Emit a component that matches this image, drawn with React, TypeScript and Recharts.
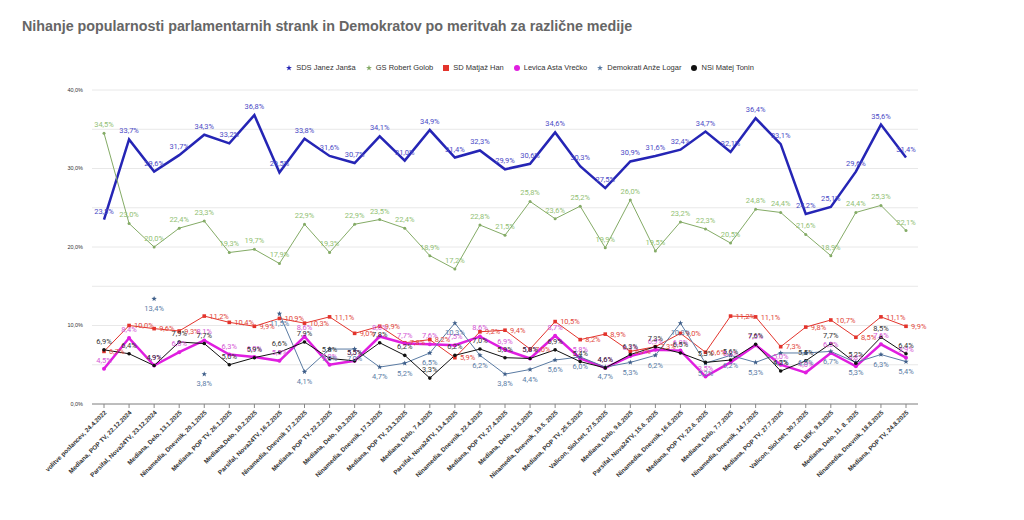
import React from 'react';
import {
  LineChart,
  Line,
  XAxis,
  YAxis,
  CartesianGrid,
  Legend,
  LabelList,
} from 'recharts';

const categories = [
  'volitve poslancev, 24.4.2022',
  'Mediana, POP TV, 22.12.2024',
  'Parsifal, Nova24TV, 23.12.2024',
  'Mediana, Delo, 13.1.2025',
  'Ninamedia, Dnevnik, 20.1.2025',
  'Mediana, POP TV, 26.1.2025',
  'Mediana,Delo, 10.2.2025',
  'Parsifal, Nova24TV, 16.2.2025',
  'Ninamedia, Dnevnik 17.2.2025',
  'Mediana, POP TV, 22.2.2025',
  'Mediana, Delo, 10.3.2025',
  'Ninamedia, Dnevnik, 17.3.2025',
  'Mediana, POP TV, 23.3.2025',
  'Mediana, Delo, 7.4.2025',
  'Parsifal, Nova24TV, 13.4.2025',
  'Ninamedia, Dnevnik, 22.4.2025',
  'Mediana, POP TV, 27.4.2025',
  'Mediana, Delo, 12.5.2025',
  'Ninamedia, Dnevnik, 19.5. 2025',
  'Mediana, POP TV, 25.5.2025',
  'Valicon, Siol.net, 27.5.2025',
  'Mediana, Delo, 9.6.2025',
  'Parsifal, Nova24TV, 15.6. 2025',
  'Ninamedia, Dnevnik, 16.6.2025',
  'Mediana, POP TV, 22.6. 2025',
  'Mediana, Delo, 7.7.2025',
  'Ninamedia, Dnevnik, 14.7.2025',
  'Mediana, POP TV, 27.7.2025',
  'Valicon, Siol.net, 30.7.2025',
  'RC LIEK, 9.8.2025',
  'Mediana, Delo, 11. 8. 2025',
  'Ninamedia, Dnevnik, 18.8.2025',
  'Mediana, POP TV, 24.8.2025',
];

const sds = [23.5, 33.7, 29.6, 31.7, 34.3, 33.2, 36.8, 29.5, 33.8, 31.6, 30.7, 34.1, 31.0, 34.9, 31.4, 32.3, 29.9, 30.6, 34.6, 30.3, 27.5, 30.9, 31.6, 32.4, 34.7, 32.1, 36.4, 33.1, 24.2, 25.1, 29.6, 35.6, 31.4];
const gs = [34.5, 23.0, 20.0, 22.4, 23.3, 19.3, 19.7, 17.9, 22.9, 19.3, 22.9, 23.5, 22.4, 18.9, 17.2, 22.8, 21.5, 25.8, 23.6, 25.2, 19.9, 26.0, 19.5, 23.2, 22.3, 20.5, 24.8, 24.4, 21.6, 18.9, 24.4, 25.3, 22.1];
const sd = [6.7, 10.0, 9.6, 9.3, 11.2, 10.4, 9.9, 10.9, 10.3, 11.1, 9.0, 9.9, 7.8, 8.2, 5.9, 9.2, 9.4, 7.0, 10.5, 8.2, 8.9, 6.7, 7.3, 9.0, 6.6, 11.2, 11.1, 7.3, 9.8, 10.7, 8.5, 11.1, 9.9];
const levica = [4.5, 8.4, 4.9, 6.6, 8.1, 6.3, 6.0, 5.5, 8.6, 5.0, 5.5, 8.6, 7.7, 7.6, 7.5, 8.6, 6.9, 5.8, 8.7, 5.8, 4.6, 6.1, 6.9, 6.8, 3.5, 5.3, 7.5, 5.0, 4.0, 6.5, 4.8, 7.6, 5.9];
const demokrati = [null, null, 13.4, null, 3.8, null, null, 11.5, 4.1, 7.0, 7.0, 4.7, 5.2, 6.5, 10.3, 6.2, 3.8, 4.4, 5.6, 6.0, 4.7, 5.3, 6.2, 10.3, 5.2, 6.2, 5.3, 6.5, 6.5, 6.7, 5.3, 6.3, 5.4];
const nsi = [6.9, 6.4, 4.9, 7.9, 7.7, 5.0, 5.9, 6.6, 7.9, 5.8, 5.5, 7.8, 6.2, 3.3, 6.2, 7.0, 5.9, 5.8, 6.9, 5.4, 4.6, 6.3, 7.3, 6.5, 5.3, 5.6, 7.6, 4.2, 5.5, 7.7, 5.2, 8.5, 6.4];

const yTicks = [0, 5, 10, 15, 20, 25, 30, 35, 40];

const legendOrder = [
  'SDS Janez Janša',
  'GS Robert Golob',
  'SD Matjaž Han',
  'Levica  Asta Vrečko',
  'Demokrati Anže Logar',
  'NSi Matej Tonin',
];

const data = categories.map((name, i) => ({
  name,
  sds: sds[i],
  gs: gs[i],
  sd: sd[i],
  levica: levica[i],
  demokrati: demokrati[i],
  nsi: nsi[i],
}));

const pct = (v: any) =>
  v == null || v === '' ? '' : Number(v).toFixed(1).replace('.', ',') + '%';

const labelFont = { fontSize: 7.5, fontFamily: 'Roboto, Arial, sans-serif' };

const ok = (p: any) => Number.isFinite(p.cx) && Number.isFinite(p.cy) && p.value != null;

const circleDot = (color: string, r: number) => (p: any) =>
  ok(p) ? <circle key={p.index} cx={p.cx} cy={p.cy} r={r} fill={color} stroke="none" /> : <g key={p.index} />;

const squareDot = (color: string) => (p: any) =>
  ok(p) ? (
    <rect key={p.index} x={p.cx - 1.8} y={p.cy - 1.8} width={3.6} height={3.6} fill={color} />
  ) : (
    <g key={p.index} />
  );

const starDot = (color: string) => (p: any) => {
  if (!ok(p)) return <g key={p.index} />;
  const pts: string[] = [];
  for (let k = 0; k < 10; k++) {
    const r = k % 2 === 0 ? 2.8 : 1.2;
    const a = (Math.PI / 5) * k - Math.PI / 2;
    pts.push(`${p.cx + r * Math.cos(a)},${p.cy + r * Math.sin(a)}`);
  }
  return <polygon key={p.index} points={pts.join(' ')} fill={color} />;
};

const XTick = (props: any) => {
  const { x, y, payload } = props;
  return (
    <g transform={`translate(${x + 3},${y + 3})`}>
      <text
        textAnchor="end"
        transform="rotate(-45)"
        fontSize={6.3}
        fontWeight="bold"
        fill="#333"
        fontFamily="'Liberation Sans', Arial, sans-serif"
      >
        {payload.value}
      </text>
    </g>
  );
};

export default function App() {
  return (
    <div
      style={{
        position: 'absolute',
        left: 0,
        top: 0,
        width: 1024,
        height: 520,
        background: '#fff',
        fontFamily: "'Liberation Sans', Arial, sans-serif",
      }}
    >
      <div
        style={{
          position: 'absolute',
          left: 22,
          top: 19,
          fontSize: 14.3,
          lineHeight: '14px',
          fontWeight: 'bold',
          color: '#666',
          whiteSpace: 'nowrap',
        }}
      >
        Nihanje popularnosti parlamentarnih strank in Demokratov po meritvah za različne medije
      </div>
      <div style={{ position: 'absolute', left: 0, top: 0 }}>
        <LineChart width={1024} height={520} data={data} margin={{ top: 81, right: 106, left: 32, bottom: 16 }}>
          <CartesianGrid vertical={false} stroke="#e8e8e8" />
          <XAxis
            dataKey="name"
            interval={0}
            tick={<XTick />}
            height={100}
            padding={{ left: 12, right: 12 }}
            axisLine={{ stroke: '#888' }}
            tickLine={{ stroke: '#888' }}
            tickSize={4}
          />
          <YAxis
            domain={[0, 40]}
            ticks={yTicks}
            width={60}
            axisLine={false}
            tickLine={false}
            tickMargin={3}
            tick={{ fontSize: 5.5, fill: '#333' }}
            tickFormatter={(v: number) => (v % 10 === 0 ? pct(v) : '')}
          />
          <Legend
            verticalAlign="top"
            iconSize={6}
            itemSorter={(item: any) => legendOrder.indexOf(item.value)}
            wrapperStyle={{ top: 63, left: 25, width: 1000, fontSize: 7.5, fontFamily: 'Arial, sans-serif' }}
            formatter={(value: any) => <span style={{ color: '#333' }}>{value}</span>}
          />
          <Line
            name="SDS Janez Janša"
            dataKey="sds"
            stroke="#2525b5"
            strokeWidth={2.5}
            dot={false}
            legendType="star"
            isAnimationActive={false}
          >
            <LabelList dataKey="sds" position="top" offset={6} formatter={pct} style={{ ...labelFont, fill: '#4b4bc6' }} />
          </Line>
          <Line
            name="GS Robert Golob"
            dataKey="gs"
            stroke="#84ab66"
            strokeWidth={1}
            dot={circleDot('#84ab66', 1.5)}
            legendType="star"
            isAnimationActive={false}
          >
            <LabelList dataKey="gs" position="top" offset={6} formatter={pct} style={{ ...labelFont, fill: '#92bf74' }} />
          </Line>
          <Line
            name="SD Matjaž Han"
            dataKey="sd"
            stroke="#e3342c"
            strokeWidth={1}
            dot={squareDot('#e3342c')}
            legendType="square"
            isAnimationActive={false}
          >
            <LabelList dataKey="sd" position="right" offset={5} formatter={pct} style={{ ...labelFont, fill: '#e2483c' }} />
          </Line>
          <Line
            name="Levica  Asta Vrečko"
            dataKey="levica"
            stroke="#e01ee0"
            strokeWidth={2.5}
            dot={circleDot('#e01ee0', 2)}
            legendType="circle"
            isAnimationActive={false}
          >
            <LabelList dataKey="levica" position="top" offset={6} formatter={pct} style={{ ...labelFont, fill: '#d458d4' }} />
          </Line>
          <Line
            name="Demokrati Anže Logar"
            dataKey="demokrati"
            stroke="#5a7ba3"
            strokeWidth={1}
            dot={starDot('#3f5f8a')}
            legendType="star"
            connectNulls={false}
            isAnimationActive={false}
          >
            <LabelList dataKey="demokrati" position="bottom" offset={7} formatter={pct} style={{ ...labelFont, fill: '#5a7ca6' }} />
          </Line>
          <Line
            name="NSi Matej Tonin"
            dataKey="nsi"
            stroke="#111"
            strokeWidth={1}
            dot={circleDot('#111', 1.8)}
            legendType="circle"
            isAnimationActive={false}
          >
            <LabelList dataKey="nsi" position="top" offset={6} formatter={pct} style={{ ...labelFont, fill: '#333' }} />
          </Line>
        </LineChart>
      </div>
    </div>
  );
}
